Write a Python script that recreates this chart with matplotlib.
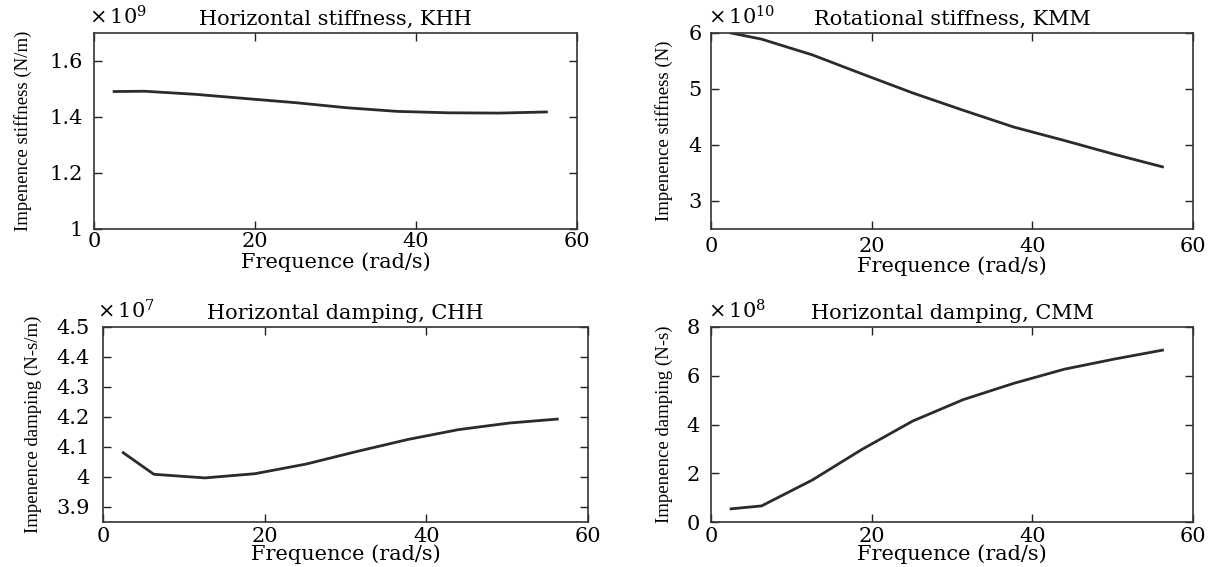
import numpy as np
import matplotlib
matplotlib.use("Agg")
import matplotlib.pyplot as plt

plt.rcParams['font.family'] = ['DejaVu Serif']
plt.rcParams['mathtext.fontset'] = 'dejavuserif'

# data (frequency in rad/s, values in units of the multiplier)
freq = [2.5, 6.3, 12.6, 18.8, 25.1, 31.4, 37.7, 44.0, 50.3, 56.2]
khh = [1.491, 1.492, 1.481, 1.466, 1.451, 1.433, 1.420, 1.415, 1.414, 1.418]
kmm = [6.00, 5.89, 5.61, 5.27, 4.93, 4.62, 4.32, 4.08, 3.83, 3.61]
chh = [4.081, 4.009, 3.997, 4.011, 4.043, 4.085, 4.125, 4.158, 4.180, 4.193]
cmm = [0.54, 0.66, 1.72, 2.98, 4.14, 5.02, 5.69, 6.27, 6.69, 7.05]

titles = ['Horizontal stiffness, KHH', 'Rotational stiffness, KMM',
          'Horizontal damping, CHH', 'Horizontal damping, CMM']
exponents = [9, 10, 7, 8]
ylabels = ['Impenence stiffness (N/m)', 'Impenence stiffness (N)',
           'Impenence damping (N-s/m)', 'Impenence damping (N-s)']
yticks = [[1, 1.2, 1.4, 1.6], [3, 4, 5, 6],
          [3.9, 4, 4.1, 4.2, 4.3, 4.4, 4.5], [0, 2, 4, 6, 8]]
yticklabels = [['1', '1.2', '1.4', '1.6'], ['3', '4', '5', '6'],
               ['3.9', '4', '4.1', '4.2', '4.3', '4.4', '4.5'],
               ['0', '2', '4', '6', '8']]
ylims = [(1, 1.7), (2.5, 6), (3.85, 4.5), (0, 8)]
xticks = [0, 20, 40, 60]
series = [khh, kmm, chh, cmm]

W, H = 1214, 567
fig = plt.figure(figsize=(W / 100, H / 100), dpi=100)
boxes = [(94, 33, 577, 229), (711, 33, 1193, 229),
         (103, 327, 588, 522), (711, 327, 1193, 522)]
ylab_x = [-0.128, -0.079, -0.126, -0.079]
xlab_y = [-0.199, -0.219, -0.195, -0.195]
mult_x = [-0.01, -0.006, -0.012, -0.006]
xpad = [2.5, 5.5, 3.5, 3.5]
ypad = [8, 6.5, 9.4, 8]
ink = '#000000'

for i, (l, t, r, b) in enumerate(boxes):
    ax = fig.add_axes([l / W, 1 - b / H, (r - l) / W, (b - t) / H])
    ax.plot(freq, series[i], color='#2b2b2b', lw=2.0)
    ax.set_xlim(0, 60)
    ax.set_ylim(*ylims[i])
    ax.set_xticks(xticks)
    ax.set_xticklabels([str(v) for v in xticks], fontsize=15)
    ax.set_yticks(yticks[i])
    ax.set_yticklabels(yticklabels[i], fontsize=15)
    ax.tick_params(direction='in', top=True, right=True, length=5.5,
                   width=1, colors='#222222', labelcolor=ink)
    ax.tick_params(axis='x', pad=xpad[i])
    ax.tick_params(axis='y', pad=ypad[i])
    for s in ax.spines.values():
        s.set_linewidth(1.2)
        s.set_color('#333333')
    ax.set_title(titles[i], fontsize=15, pad=5.8, color=ink)
    ax.annotate(r'$\times\,10^{%d}$' % exponents[i], xy=(mult_x[i], 1),
                xycoords='axes fraction', xytext=(0, 5.8),
                textcoords='offset points', fontsize=15, ha='left',
                va='baseline', color=ink)
    ax.set_xlabel('Frequence (rad/s)', fontsize=15, color=ink, va='baseline')
    ax.xaxis.set_label_coords(0.5, xlab_y[i])
    ax.set_ylabel(ylabels[i], fontsize=13.5, color=ink,
                  family=['Liberation Serif', 'DejaVu Serif'])
    ax.yaxis.set_label_coords(ylab_x[i], 0.5)

fig.savefig('out.png', dpi=100)
